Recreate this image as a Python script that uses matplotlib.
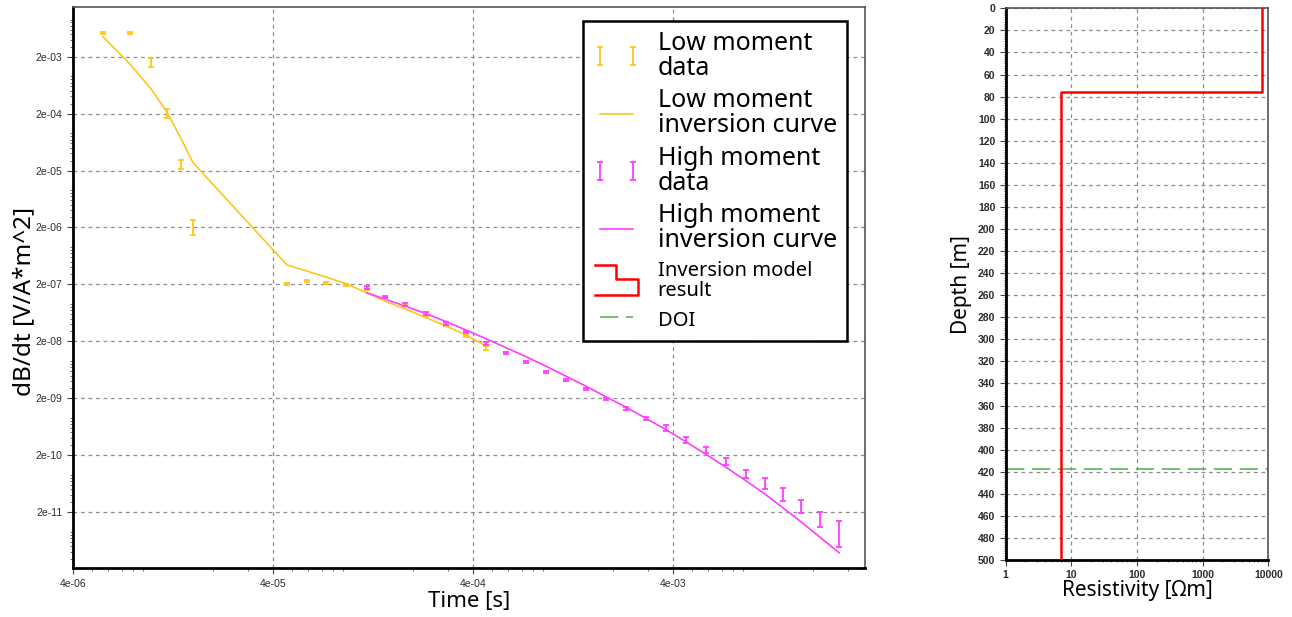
""" TEM sounding: dB/dt decay curves and resulting resistivity model.

"""

# -- Imports -----------------------------------------------------------------
import matplotlib
matplotlib.use('Agg')
import matplotlib.pyplot as plt
from matplotlib.legend_handler import HandlerBase, HandlerErrorbar
from matplotlib.lines import Line2D
from matplotlib.ticker import FixedLocator, LogLocator, MultipleLocator, NullFormatter
import numpy as np


# -- Data --------------------------------------------------------------------

# Low moment gates [s], measured dB/dt and inversion response [V/A*m^2]
low_time = [5.65e-6, 7.7e-6, 9.8e-6, 1.18e-5, 1.39e-5, 1.59e-5, 4.7e-5,
            5.9e-5, 7.36e-5, 9.27e-5, 1.18e-4, 1.45e-4, 1.83e-4, 2.33e-4,
            2.93e-4, 3.69e-4, 4.65e-4]
low_data = [5.2e-3, 5.2e-3, 1.6e-3, 2.0e-4, 2.6e-5, 1.98e-6, 2.0e-7,
            2.26e-7, 2.14e-7, 1.98e-7, 1.63e-7, 1.13e-7, 8.3e-8, 5.77e-8,
            3.85e-8, 2.47e-8, 1.5e-8]
# multiplicative error (upper = v*f, lower = v/f)
low_err = [1.04, 1.04, 1.19, 1.19, 1.2, 1.35, 1.04, 1.04, 1.04, 1.04,
           1.04, 1.04, 1.04, 1.04, 1.05, 1.06, 1.085]
low_curve = [4.49e-3, 1.49e-3, 5.5e-4, 2.13e-4, 7.2e-5, 2.77e-5, 4.37e-7,
             3.43e-7, 2.69e-7, 2.06e-7, 1.41e-7, 1.02e-7, 7.4e-8, 5.2e-8,
             3.7e-8, 2.57e-8, 1.65e-8]

# High moment gates
high_time = [1.18e-4, 1.45e-4, 1.83e-4, 2.32e-4, 2.93e-4, 3.69e-4, 4.63e-4,
             5.83e-4, 7.34e-4, 9.24e-4, 1.163e-3, 1.464e-3, 1.843e-3,
             2.32e-3, 2.92e-3, 3.68e-3, 4.63e-3, 5.83e-3, 7.34e-3, 9.24e-3,
             1.154e-2, 1.414e-2, 1.74e-2, 2.17e-2, 2.71e-2]
high_data = [1.77e-7, 1.21e-7, 8.9e-8, 6.18e-8, 4.13e-8, 2.9e-8, 1.84e-8,
             1.26e-8, 8.55e-9, 5.87e-9, 4.16e-9, 2.86e-9, 1.95e-9, 1.32e-9,
             8.83e-10, 5.89e-10, 3.72e-10, 2.48e-10, 1.57e-10, 9.38e-11,
             6.37e-11, 4.07e-11, 2.47e-11, 1.48e-11, 8.18e-12]
high_err = [1.05, 1.05, 1.05, 1.05, 1.05, 1.05, 1.05, 1.04, 1.04, 1.04,
            1.04, 1.04, 1.05, 1.06, 1.07, 1.13, 1.13, 1.12, 1.15, 1.17,
            1.24, 1.31, 1.31, 1.35, 1.69]
high_curve = [1.42e-7, 1.10e-7, 8.3e-8, 6.14e-8, 4.44e-8, 3.15e-8, 2.23e-8,
              1.55e-8, 1.08e-8, 7.33e-9, 4.89e-9, 3.27e-9, 2.13e-9, 1.40e-9,
              8.93e-10, 5.61e-10, 3.45e-10, 2.08e-10, 1.23e-10, 7.13e-11,
              4.13e-11, 2.39e-11, 1.36e-11, 7.24e-12, 3.84e-12]

# Layered model
layer_bounds = [0, 75.6, 500]      # m
layer_rho = [8070, 7.04]           # Ohm m
doi = 417.5                        # m

y_ticks = [2e-3, 2e-4, 2e-5, 2e-6, 2e-7, 2e-8, 2e-9, 2e-10, 2e-11]
x_ticks = [4e-6, 4e-5, 4e-4, 4e-3]
rho_ticks = [1, 10, 100, 1000, 10000]

LOW_C = '#FFC61A'
HIGH_C = '#FF3DFF'
GRID_C = '#8C8C8C'
FONT = ['Noto Sans', 'DejaVu Sans']
TICK_FONT = ['Liberation Sans', 'DejaVu Sans']


# -- Legend handler for the step shaped model entry --------------------------

class StepHandler(HandlerBase):
    def create_artists(self, legend, orig_handle, xdescent, ydescent,
                       width, height, fontsize, trans):
        xs = np.array([0.05, 0.5, 0.5, 0.95, 0.95, 0.05]) * width - xdescent
        ys = np.array([1.35, 1.35, 0.55, 0.55, -0.4, -0.4]) * height - ydescent
        line = Line2D(xs, ys, color=orig_handle.get_color(),
                      lw=orig_handle.get_linewidth())
        line.set_transform(trans)
        return [line]


def log_err(vals, fac):
    vals = np.asarray(vals)
    fac = np.asarray(fac)
    return [vals - vals / fac, vals * fac - vals]


def style_grid(ax):
    ax.grid(True, which='major', color=GRID_C, ls=(0, (3, 3)), lw=0.9)
    ax.set_axisbelow(True)
    for side in ['left', 'bottom']:
        ax.spines[side].set_linewidth(2)
        ax.spines[side].set_color('black')
    for side in ['top', 'right']:
        ax.spines[side].set_linewidth(1.2)
        ax.spines[side].set_color('#555555')
    ax.tick_params(which='major', direction='out', length=4, width=0.8,
                   color='#444444', labelcolor='#2b2b2b')
    ax.tick_params(which='minor', direction='out', length=2, width=0.6,
                   color='#555555')


# -- Figure ------------------------------------------------------------------

fig = plt.figure(figsize=(12.92, 6.17), dpi=100)
ax1 = fig.add_axes([73 / 1292, (617 - 568.3) / 617,
                    (865 - 73) / 1292, (568.3 - 7) / 617])
ax2 = fig.add_axes([1005.7 / 1292, (617 - 560) / 617,
                    (1268.3 - 1005.7) / 1292, (560 - 8.3) / 617])

# Decay curves
ax1.set_xscale('log')
ax1.set_yscale('log')

low_eb = ax1.errorbar(low_time, low_data, yerr=log_err(low_data, low_err),
                      fmt='none', ecolor=LOW_C, elinewidth=1.3, capsize=2,
                      capthick=1.3, label='Low moment\ndata', zorder=3)
low_ln, = ax1.plot(low_time, low_curve, color=LOW_C, lw=1.2,
                   label='Low moment\ninversion curve', zorder=2)
high_eb = ax1.errorbar(high_time, high_data,
                       yerr=log_err(high_data, high_err), fmt='none',
                       ecolor=HIGH_C, elinewidth=1.3, capsize=2,
                       capthick=1.3, label='High moment\ndata', zorder=3)
high_ln, = ax1.plot(high_time, high_curve, color=HIGH_C, lw=1.2,
                    label='High moment\ninversion curve', zorder=2)

ax1.set_xlim(4e-6, 3.65e-2)
ax1.set_ylim(2.05e-12, 1.494e-2)
ax1.xaxis.set_major_locator(FixedLocator(x_ticks))
ax1.xaxis.set_major_formatter(plt.FuncFormatter(lambda v, p: '%.0e' % v))
ax1.yaxis.set_major_locator(FixedLocator(y_ticks))
ax1.yaxis.set_major_formatter(plt.FuncFormatter(lambda v, p: '%.0e' % v))
ax1.xaxis.set_minor_locator(LogLocator(subs=np.arange(2, 10)))
ax1.yaxis.set_minor_locator(LogLocator(subs=np.arange(2, 10), numticks=30))
ax1.xaxis.set_minor_formatter(NullFormatter())
ax1.yaxis.set_minor_formatter(NullFormatter())
style_grid(ax1)
for lab in ax1.get_xticklabels() + ax1.get_yticklabels():
    lab.set_fontfamily(TICK_FONT)
    lab.set_fontsize(7.5)

ax1.set_xlabel('Time [s]', fontsize=16, family=FONT, labelpad=2)
ax1.set_ylabel('dB/dt [V/A*m^2]', fontsize=17.5, family=FONT)
ax1.yaxis.set_label_coords(-0.047, 0.476)

# Resistivity model
model_x = np.repeat(layer_rho, 2)
model_y = np.repeat(layer_bounds, 2)[1:-1]
model_ln, = ax2.plot(model_x, model_y, color='#FF0000', lw=1.8,
                     label='Inversion model\nresult', zorder=3)
doi_ln = ax2.axhline(doi, color='#4CAF50', lw=1.1, ls=(0, (12, 5)),
                     label='DOI', zorder=2)

ax2.set_xscale('log')
ax2.set_xlim(1, 10000)
ax2.set_ylim(500, 0)
ax2.xaxis.set_major_locator(FixedLocator(rho_ticks))
ax2.xaxis.set_major_formatter(plt.FuncFormatter(lambda v, p: '%d' % v))
ax2.xaxis.set_minor_locator(LogLocator(subs=np.arange(2, 10)))
ax2.xaxis.set_minor_formatter(NullFormatter())
ax2.yaxis.set_major_locator(MultipleLocator(20))
ax2.yaxis.set_minor_locator(MultipleLocator(2))
style_grid(ax2)
ax2.tick_params(which='minor', length=1.5)
for lab in ax2.get_xticklabels() + ax2.get_yticklabels():
    lab.set_fontfamily(TICK_FONT)
    lab.set_fontsize(7.5)
    lab.set_fontweight('bold')

ax2.set_xlabel('Resistivity [Ωm]', fontsize=15, family=FONT, labelpad=0)
ax2.set_ylabel('Depth [m]', fontsize=15, family=FONT, labelpad=4)

# Legend
handles = [low_eb, low_ln, high_eb, high_ln, model_ln, doi_ln]
labels = [h.get_label() for h in handles]
leg = ax1.legend(handles, labels, loc='upper right',
                 bbox_to_anchor=((846.7 - 73) / 792, (568.3 - 20.7) / 561.3),
                 borderaxespad=0, numpoints=2, fancybox=False,
                 framealpha=1, edgecolor='black', handlelength=1.9,
                 handletextpad=0.7, labelspacing=0.3, borderpad=0.4,
                 prop={'family': FONT, 'size': 18},
                 handler_map={model_ln: StepHandler(),
                              low_eb: HandlerErrorbar(xerr_size=0.36),
                              high_eb: HandlerErrorbar(xerr_size=0.36)})
leg.get_frame().set_linewidth(1.8)
for txt in leg.get_texts():
    txt.set_linespacing(1.0)
for txt in leg.get_texts()[4:]:
    txt.set_fontsize(14.5)

fig.savefig('out.png', dpi=100)
